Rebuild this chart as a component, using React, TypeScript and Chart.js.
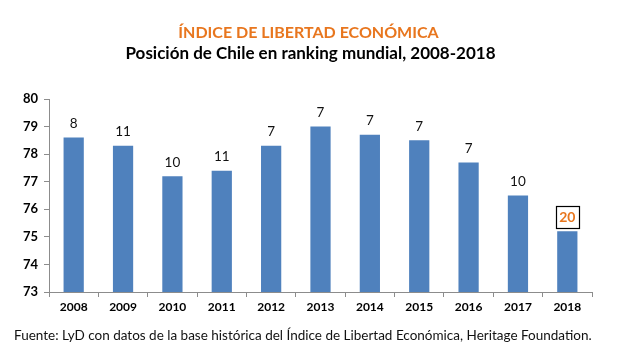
import React, { useEffect, useRef } from "react";
import { Chart, registerables } from "chart.js";

Chart.register(...registerables);

const categories = ["2008", "2009", "2010", "2011", "2012", "2013", "2014", "2015", "2016", "2017", "2018"];
const scores = [78.6, 78.3, 77.2, 77.4, 78.3, 79.0, 78.7, 78.5, 77.7, 76.5, 75.2];
const rankings = [8, 11, 10, 11, 7, 7, 7, 7, 7, 10, 20];
const yMin = 73;
const yMax = 80;
const titleText = "ÍNDICE DE LIBERTAD ECONÓMICA";
const subtitleText = "Posición de Chile en ranking mundial, 2008-2018";
const footerText = "Fuente: LyD con datos de la base histórica del Índice de Libertad Económica, Heritage Foundation.";

const FONT = "Lato, 'Open Sans', sans-serif";
const ORANGE = "#E8761E";
const BLUE = "#4F81BD";
const AXIS = "#8C8C8C";

const labelPlugin = {
  id: "rankLabels",
  afterDatasetsDraw(chart: any) {
    const ctx = chart.ctx;
    const meta = chart.getDatasetMeta(0);
    ctx.save();
    ctx.textAlign = "center";
    ctx.textBaseline = "middle";
    meta.data.forEach((el: any, i: number) => {
      const last = i === rankings.length - 1;
      const x = el.x;
      const y = el.y - 14;
      if (last) {
        ctx.font = `bold 14px ${FONT}`;
        ctx.fillStyle = ORANGE;
        ctx.strokeStyle = "#000";
        ctx.lineWidth = 1.2;
        ctx.strokeRect(Math.round(x - 11.5) + 0.5, Math.round(y - 11) + 0.5, 23, 22);
        ctx.fillText(String(rankings[i]), x, y + 0.5);
      } else {
        ctx.font = `13.5px ${FONT}`;
        ctx.fillStyle = "#111";
        ctx.fillText(String(rankings[i]), x, y);
      }
    });
    ctx.restore();
  },
};

const textPlugin = {
  id: "headerFooter",
  afterDraw(chart: any) {
    const ctx = chart.ctx;
    const cx = chart.width / 2;
    ctx.save();
    ctx.textBaseline = "middle";
    ctx.textAlign = "center";
    ctx.font = `bold 16px ${FONT}`;
    ctx.fillStyle = ORANGE;
    ctx.fillText(titleText, cx, 32.5);
    ctx.font = `bold 17px ${FONT}`;
    ctx.fillStyle = "#000";
    ctx.fillText(subtitleText, cx + 2, 54);
    ctx.font = `13.5px ${FONT}`;
    ctx.fillStyle = "#111";
    ctx.textAlign = "left";
    ctx.fillText(footerText, 14, 336);
    ctx.restore();
  },
};

export default function App() {
  const ref = useRef<HTMLCanvasElement | null>(null);
  useEffect(() => {
    if (!ref.current) return;
    const chart = new Chart(ref.current, {
      type: "bar",
      data: {
        labels: categories,
        datasets: [
          {
            data: scores,
            backgroundColor: BLUE,
            borderWidth: 0,
            barPercentage: 0.41,
            categoryPercentage: 1,
          },
        ],
      },
      options: {
        animation: false,
        responsive: false,
        maintainAspectRatio: false,
        layout: { padding: { top: 99, left: 0, right: 25, bottom: 0 } },
        plugins: {
          legend: { display: false },
          tooltip: { enabled: false },
          title: { display: false },
        },
        scales: {
          x: {
            grid: {
              display: true,
              drawOnChartArea: false,
              drawTicks: true,
              tickLength: 5,
              color: AXIS,
              offset: true,
            },
            border: { display: true, color: AXIS, width: 1 },
            ticks: {
              color: "#000",
              font: { family: FONT, size: 12, weight: "bold" },
              padding: 3,
              maxRotation: 0,
            },
            afterFit(scale: any) {
              scale.height = 71;
            },
          },
          y: {
            min: yMin,
            max: yMax,
            ticks: {
              stepSize: 1,
              color: "#000",
              font: { family: FONT, size: 13, weight: "bold" },
              padding: 6,
            },
            grid: {
              display: true,
              drawOnChartArea: false,
              drawTicks: true,
              tickLength: 5,
              color: AXIS,
            },
            border: { display: true, color: AXIS, width: 1 },
            afterFit(scale: any) {
              scale.width = 49;
            },
          },
        },
      },
      plugins: [labelPlugin, textPlugin],
    });
    return () => chart.destroy();
  }, []);
  return (
    <div style={{ position: "fixed", left: 0, top: 0, width: 617, height: 363, background: "#fff" }}>
      <canvas ref={ref} width={617} height={363} style={{ width: 617, height: 363 }} />
    </div>
  );
}
